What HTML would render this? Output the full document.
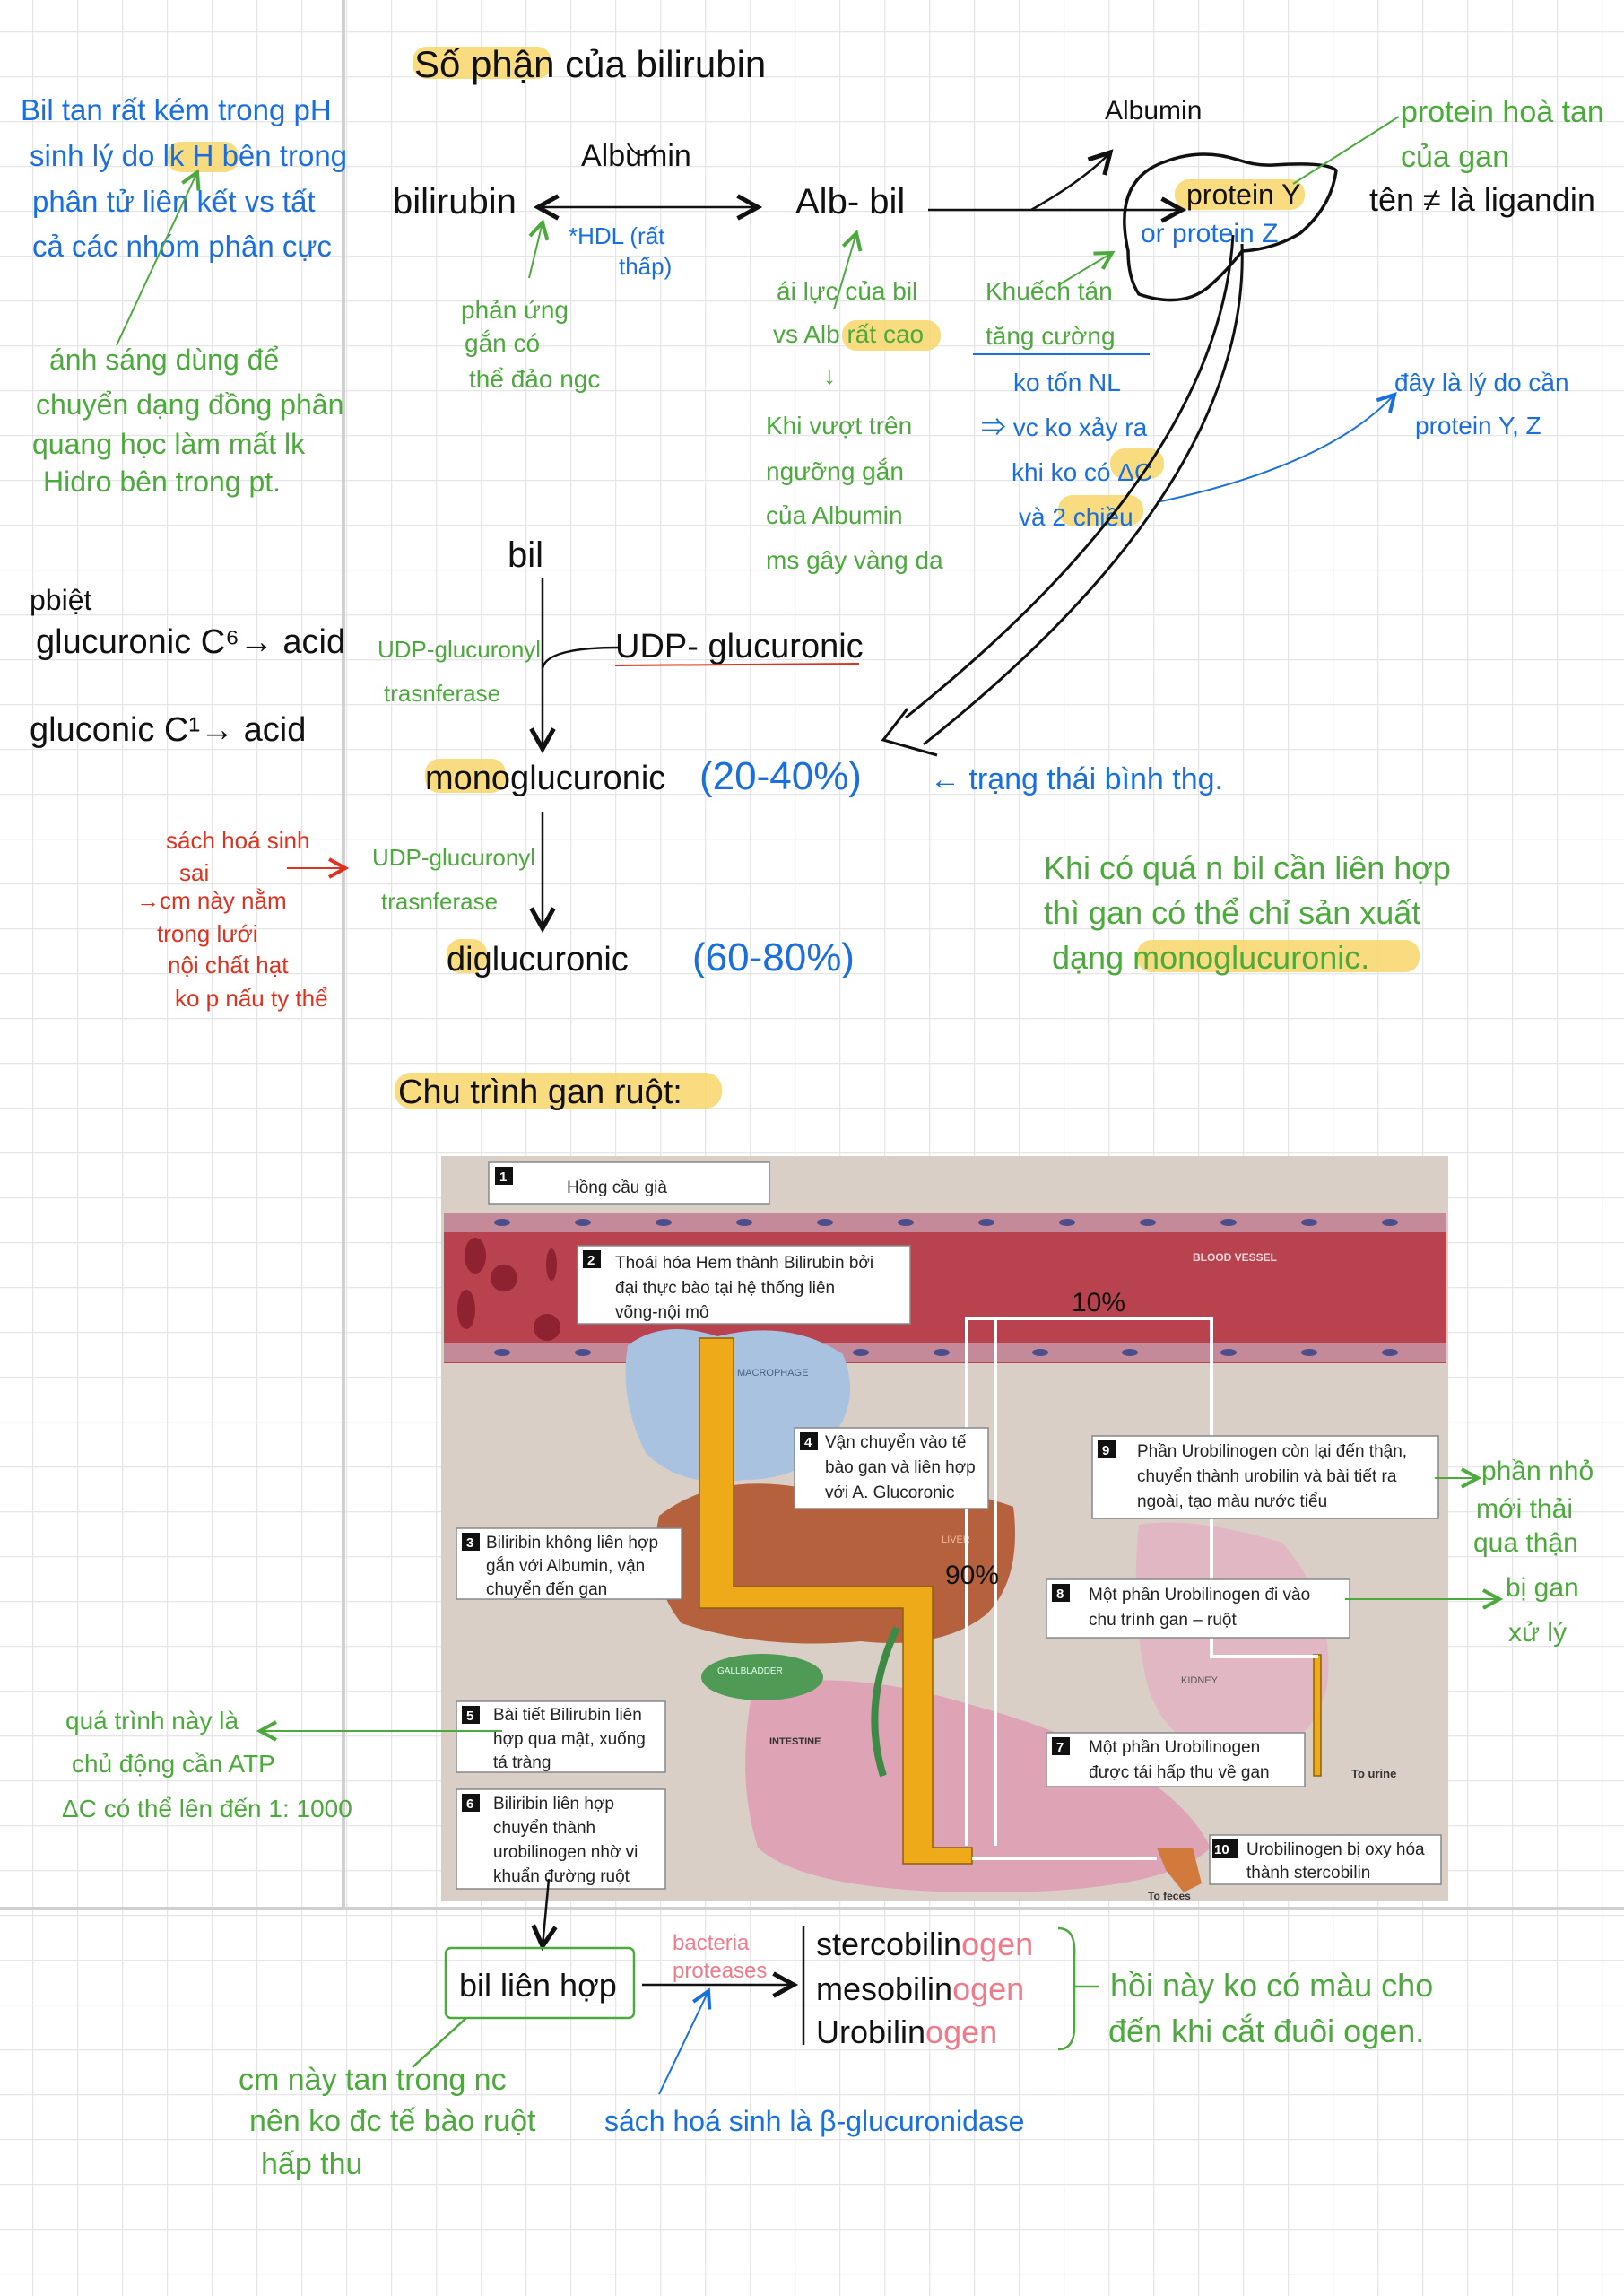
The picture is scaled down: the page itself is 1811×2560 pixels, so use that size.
<!DOCTYPE html>
<html><head><meta charset="utf-8"><style>
html,body{margin:0;padding:0;background:#fff}
svg{display:block}
text{font-family:"Liberation Sans","Noto Sans CJK SC",sans-serif}
.k{fill:#111}.b{fill:#1a6fe0}.g{fill:#4caa3c}.r{fill:#e0301e}.p{fill:#f07a8a}
.f{font-size:19px;fill:#222}
</style></head><body>
<svg width="1811" height="2560" viewBox="0 0 1811 2560" xmlns="http://www.w3.org/2000/svg">
<defs>
<pattern id="grid" x="36" y="35" width="50" height="50" patternUnits="userSpaceOnUse">
<path d="M0 0H50M0 0V50" stroke="#e6e6e6" stroke-width="2.5" fill="none"/>
</pattern>
<marker id="ak" markerWidth="12" markerHeight="12" refX="10" refY="6" orient="auto-start-reverse"><path d="M1 1L10 6L1 11" fill="none" stroke="#111" stroke-width="2"/></marker>
<marker id="ag" markerWidth="12" markerHeight="12" refX="10" refY="6" orient="auto-start-reverse"><path d="M1 1L10 6L1 11" fill="none" stroke="#4caa3c" stroke-width="2"/></marker>
<marker id="ab" markerWidth="12" markerHeight="12" refX="10" refY="6" orient="auto-start-reverse"><path d="M1 1L10 6L1 11" fill="none" stroke="#1a6fe0" stroke-width="2"/></marker>
<marker id="ar" markerWidth="12" markerHeight="12" refX="10" refY="6" orient="auto-start-reverse"><path d="M1 1L10 6L1 11" fill="none" stroke="#e0301e" stroke-width="2"/></marker>
</defs>
<rect width="1811" height="2560" fill="url(#grid)"/>
<line x1="383" y1="0" x2="383" y2="2128" stroke="#cfcfcf" stroke-width="4"/>
<line x1="0" y1="2128" x2="1811" y2="2128" stroke="#cfcfcf" stroke-width="4"/>

<g fill="#f8d66a" opacity="0.85">
<rect x="460" y="52" width="155" height="36" rx="16"/>
<rect x="1310" y="200" width="145" height="34" rx="16"/>
<rect x="186" y="158" width="80" height="34" rx="16"/>
<rect x="939" y="357" width="110" height="34" rx="16"/>
<rect x="1238" y="500" width="60" height="34" rx="16"/>
<rect x="1180" y="552" width="95" height="34" rx="16"/>
<rect x="474" y="846" width="90" height="38" rx="16"/>
<rect x="498" y="1047" width="45" height="38" rx="16"/>
<rect x="1268" y="1048" width="315" height="36" rx="16"/>
<rect x="440" y="1196" width="365" height="40" rx="18"/>
</g>

<text x="462" y="86" class="k" font-size="42">Số phận của bilirubin</text>
<g class="b" font-size="33">
<text x="23" y="134">Bil tan rất kém trong pH</text>
<text x="33" y="185">sinh lý  do lk H bên trong</text>
<text x="36" y="236">phân tử liên kết vs tất</text>
<text x="36" y="286">cả các nhóm phân cực</text>
</g>
<line x1="130" y1="385" x2="220" y2="192" stroke="#4caa3c" stroke-width="2" marker-end="url(#ag)"/>
<g class="g" font-size="32">
<text x="55" y="412">ánh sáng dùng để</text>
<text x="40" y="462">chuyển dạng đồng phân</text>
<text x="36" y="506">quang học làm mất lk</text>
<text x="48" y="548">Hidro bên trong pt.</text>
</g>

<text x="438" y="238" class="k" font-size="40">bilirubin</text>
<text x="648" y="185" class="k" font-size="34">Albumin</text>
<path d="M700 160 Q715 185 730 162" fill="none" stroke="#111" stroke-width="2"/>
<line x1="600" y1="231" x2="845" y2="231" stroke="#111" stroke-width="2.5" marker-end="url(#ak)" marker-start="url(#ak)"/>
<text x="634" y="272" class="b" font-size="26">*HDL (rất</text>
<text x="690" y="306" class="b" font-size="26">thấp)</text>
<line x1="590" y1="310" x2="605" y2="248" stroke="#4caa3c" stroke-width="2" marker-end="url(#ag)"/>
<g class="g" font-size="28">
<text x="514" y="355">phản ứng</text>
<text x="518" y="392">gắn có</text>
<text x="523" y="432">thể đảo ngc</text>
</g>
<text x="887" y="238" class="k" font-size="40">Alb- bil</text>
<line x1="1035" y1="234" x2="1318" y2="234" stroke="#111" stroke-width="2.5" marker-end="url(#ak)"/>
<path d="M1150 234 Q1210 200 1238 170" fill="none" stroke="#111" stroke-width="2.5" marker-end="url(#ak)"/>
<text x="1232" y="133" class="k" font-size="30">Albumin</text>
<path d="M1258 280 Q1240 200 1300 180 Q1340 165 1380 178 Q1400 185 1420 184 Q1480 180 1490 190 Q1485 230 1450 260 Q1420 278 1385 280 Q1370 300 1350 318 Q1320 345 1270 328 Q1258 310 1258 280Z" fill="none" stroke="#111" stroke-width="3.5"/>
<text x="1323" y="228" class="k" font-size="32">protein Y</text>
<text x="1272" y="270" class="b" font-size="30">or protein Z</text>
<line x1="1442" y1="205" x2="1560" y2="130" stroke="#4caa3c" stroke-width="2"/>
<text x="1562" y="136" class="g" font-size="34">protein hoà tan</text>
<text x="1562" y="186" class="g" font-size="34">của gan</text>
<text x="1527" y="235" class="k" font-size="36">tên ≠ là ligandin</text>

<line x1="930" y1="345" x2="955" y2="260" stroke="#4caa3c" stroke-width="2" marker-end="url(#ag)"/>
<g class="g" font-size="28">
<text x="866" y="334">ái lực của bil</text>
<text x="862" y="382">vs Alb rất cao</text>
<text x="918" y="428">↓</text>
<text x="854" y="484">Khi vượt trên</text>
<text x="854" y="535">ngưỡng gắn</text>
<text x="854" y="584">của Albumin</text>
<text x="854" y="634">ms gây vàng da</text>
</g>
<line x1="1180" y1="318" x2="1240" y2="282" stroke="#4caa3c" stroke-width="2" marker-end="url(#ag)"/>
<text x="1099" y="334" class="g" font-size="28">Khuếch tán</text>
<text x="1099" y="384" class="g" font-size="28">tăng cường</text>
<line x1="1085" y1="395" x2="1282" y2="395" stroke="#1a6fe0" stroke-width="2"/>
<g class="b" font-size="28">
<text x="1130" y="436">ko tốn NL</text>
<text x="1094" y="486">⇒ vc ko xảy ra</text>
<text x="1128" y="536">khi ko có ΔC</text>
<text x="1136" y="586">và 2 chiều</text>
<text x="1555" y="436">đây là lý do cần</text>
<text x="1578" y="484">protein Y, Z</text>
</g>
<path d="M1290 560 Q1480 520 1555 440" fill="none" stroke="#1a6fe0" stroke-width="2" marker-end="url(#ab)"/>
<path d="M1375 262 Q1360 520 1010 800 M1385 272 Q1395 540 1030 830" fill="none" stroke="#111" stroke-width="3"/>
<path d="M1012 790 L985 825 L1045 842" fill="none" stroke="#111" stroke-width="3"/>

<text x="566" y="632" class="k" font-size="40">bil</text>
<line x1="605" y1="645" x2="605" y2="835" stroke="#111" stroke-width="2.5" marker-end="url(#ak)"/>
<path d="M605 745 Q610 722 690 722" fill="none" stroke="#111" stroke-width="2.5"/>
<text x="33" y="680" class="k" font-size="32">pbiệt</text>
<text x="40" y="728" class="k" font-size="38">glucuronic C⁶→ acid</text>
<text x="33" y="826" class="k" font-size="38">gluconic C¹→ acid</text>
<text x="421" y="733" class="g" font-size="26">UDP-glucuronyl</text>
<text x="428" y="782" class="g" font-size="26">trasnferase</text>
<text x="686" y="733" class="k" font-size="38">UDP- glucuronic</text>
<line x1="686" y1="742" x2="958" y2="740" stroke="#e0301e" stroke-width="2"/>
<text x="474" y="880" class="k" font-size="38">monoglucuronic</text>
<text x="780" y="880" class="b" font-size="44">(20-40%)</text>
<text x="1037" y="880" class="b" font-size="34">← trạng thái bình thg.</text>
<line x1="605" y1="905" x2="605" y2="1035" stroke="#111" stroke-width="2.5" marker-end="url(#ak)"/>
<g class="r" font-size="26">
<text x="185" y="946">sách hoá sinh</text>
<text x="200" y="982">sai</text>
<text x="152" y="1013">→cm này nằm</text>
<text x="175" y="1050">trong lưới</text>
<text x="187" y="1085">nội chất hạt</text>
<text x="195" y="1122">ko p nấu ty thể</text>
</g>
<line x1="320" y1="968" x2="385" y2="968" stroke="#e0301e" stroke-width="2" marker-end="url(#ar)"/>
<text x="415" y="965" class="g" font-size="26">UDP-glucuronyl</text>
<text x="425" y="1014" class="g" font-size="26">trasnferase</text>
<text x="498" y="1082" class="k" font-size="38">diglucuronic</text>
<text x="772" y="1082" class="b" font-size="44">(60-80%)</text>
<g class="g" font-size="36">
<text x="1164" y="980">Khi có quá n bil cần liên hợp</text>
<text x="1164" y="1030">thì gan có thể chỉ sản xuất</text>
<text x="1173" y="1080">dạng monoglucuronic.</text>
</g>
<text x="444" y="1230" class="k" font-size="38">Chu trình gan ruột:</text>

<rect x="492" y="1289" width="1123" height="831" fill="#d9cfc7"/>
<rect x="495" y="1352" width="1118" height="168" fill="#b8434f"/>
<rect x="495" y="1352" width="1118" height="22" fill="#c48a9a"/>
<rect x="495" y="1497" width="1118" height="22" fill="#c48a9a"/>
<g fill="#4a4f8c">
<ellipse cx="560" cy="1363" rx="9" ry="4"/><ellipse cx="650" cy="1363" rx="9" ry="4"/><ellipse cx="740" cy="1363" rx="9" ry="4"/><ellipse cx="830" cy="1363" rx="9" ry="4"/><ellipse cx="920" cy="1363" rx="9" ry="4"/><ellipse cx="1010" cy="1363" rx="9" ry="4"/><ellipse cx="1100" cy="1363" rx="9" ry="4"/><ellipse cx="1190" cy="1363" rx="9" ry="4"/><ellipse cx="1280" cy="1363" rx="9" ry="4"/><ellipse cx="1370" cy="1363" rx="9" ry="4"/><ellipse cx="1460" cy="1363" rx="9" ry="4"/><ellipse cx="1550" cy="1363" rx="9" ry="4"/>
<ellipse cx="560" cy="1508" rx="9" ry="4"/><ellipse cx="650" cy="1508" rx="9" ry="4"/><ellipse cx="960" cy="1508" rx="9" ry="4"/><ellipse cx="1050" cy="1508" rx="9" ry="4"/><ellipse cx="1160" cy="1508" rx="9" ry="4"/><ellipse cx="1260" cy="1508" rx="9" ry="4"/><ellipse cx="1370" cy="1508" rx="9" ry="4"/><ellipse cx="1460" cy="1508" rx="9" ry="4"/><ellipse cx="1550" cy="1508" rx="9" ry="4"/>
</g>
<g fill="#8e2230"><ellipse cx="530" cy="1400" rx="12" ry="20"/><circle cx="562" cy="1425" r="15"/><ellipse cx="520" cy="1460" rx="10" ry="22"/><circle cx="610" cy="1480" r="15"/><ellipse cx="615" cy="1410" rx="6" ry="18"/></g>
<text x="1330" y="1406" font-size="12" fill="#f4d8dc" font-weight="bold">BLOOD VESSEL</text>
<path d="M700 1500 Q740 1470 800 1490 Q880 1470 940 1510 Q960 1560 930 1600 Q900 1650 830 1650 Q760 1660 720 1620 Q690 1560 700 1500Z" fill="#a9c2e0"/>
<text x="822" y="1534" font-size="11" fill="#4a5e80">MACROPHAGE</text>
<path d="M735 1690 Q800 1640 900 1660 Q1050 1650 1130 1680 Q1140 1760 1100 1800 Q1050 1840 960 1830 Q850 1840 760 1810 Q720 1760 735 1690Z" fill="#b5613d"/>
<text x="1050" y="1720" font-size="11" fill="#e8c0a0">LIVER</text>
<path d="M1270 1700 Q1330 1690 1430 1720 Q1490 1790 1480 1880 Q1460 1960 1380 1960 Q1300 1950 1280 1880 Q1260 1800 1270 1700Z" fill="#e2b7c4"/>
<text x="1317" y="1877" font-size="11" fill="#555">KIDNEY</text>
<path d="M840 1880 Q950 1860 1080 1900 Q1300 1960 1350 2060 Q1300 2110 1100 2110 Q900 2110 845 2060 Q820 1980 840 1880Z" fill="#dea3b5"/>
<text x="858" y="1945" font-size="11" fill="#333" font-weight="bold">INTESTINE</text>
<ellipse cx="850" cy="1870" rx="68" ry="26" fill="#4f9a55"/>
<text x="800" y="1866" font-size="10" fill="#dfe">GALLBLADDER</text>
<path d="M1000 1815 Q960 1900 985 1980" fill="none" stroke="#3c8a44" stroke-width="8"/>
<g fill="#eeaa18" stroke="#8a6010" stroke-width="1.5">
<path d="M780 1492 L818 1492 L818 1769 L1040 1769 L1040 2060 L1084 2060 L1084 2078 L1007 2078 L1007 1793 L780 1793Z"/>
<rect x="1465" y="1845" width="8" height="135"/>
</g>
<g fill="none" stroke="#fff" stroke-width="4">
<path d="M1078 2058 L1078 1470 L1351 1470 L1351 1847 L1470 1847"/>
<path d="M1110 2058 L1110 1470"/>
<path d="M1084 2072 L1290 2072"/>
</g>
<path d="M1290 2060 L1330 2060 L1340 2100 L1320 2110 L1300 2085 Z" fill="#d27a3c"/>
<text x="1280" y="2118" font-size="12" font-weight="bold" fill="#333">To feces</text>
<text x="1507" y="1982" font-size="13" font-weight="bold" fill="#333">To urine</text>
<text x="1195" y="1462" font-size="30" class="k">10%</text>
<text x="1054" y="1766" font-size="30" class="k">90%</text>
<g fill="#fff" stroke="#888" stroke-width="1.5">
<rect x="545" y="1296" width="313" height="46"/>
<rect x="644" y="1389" width="371" height="87"/>
<rect x="509" y="1704" width="251" height="79"/>
<rect x="886" y="1592" width="216" height="90"/>
<rect x="509" y="1897" width="233" height="79"/>
<rect x="509" y="1995" width="233" height="111"/>
<rect x="1167" y="1932" width="288" height="60"/>
<rect x="1167" y="1761" width="338" height="65"/>
<rect x="1218" y="1601" width="386" height="92"/>
<rect x="1349" y="2046" width="258" height="55"/>
</g>
<g fill="#111"><rect x="552" y="1301" width="20" height="20"/><rect x="650" y="1394" width="20" height="20"/><rect x="515" y="1709" width="20" height="20"/><rect x="892" y="1597" width="20" height="20"/><rect x="515" y="1902" width="20" height="20"/><rect x="515" y="2000" width="20" height="20"/><rect x="1173" y="1937" width="20" height="20"/><rect x="1173" y="1766" width="20" height="20"/><rect x="1224" y="1606" width="20" height="20"/><rect x="1352" y="2050" width="28" height="22"/></g>
<g fill="#fff" font-size="15" font-weight="bold"><text x="557" y="1317">1</text><text x="655" y="1410">2</text><text x="520" y="1725">3</text><text x="897" y="1613">4</text><text x="520" y="1918">5</text><text x="520" y="2016">6</text><text x="1178" y="1953">7</text><text x="1178" y="1782">8</text><text x="1229" y="1622">9</text><text x="1354" y="2067">10</text></g>
<g class="f">
<text x="632" y="1330">Hồng cầu già</text>
<text x="686" y="1414">Thoái hóa Hem thành Bilirubin bởi</text>
<text x="686" y="1442">đại thực bào tại hệ thống liên</text>
<text x="686" y="1469">võng-nội mô</text>
<text x="542" y="1726">Biliribin không liên hợp</text>
<text x="542" y="1752">gắn với Albumin, vận</text>
<text x="542" y="1778">chuyển đến gan</text>
<text x="920" y="1614">Vận chuyển vào tế</text>
<text x="920" y="1642">bào gan và liên hợp</text>
<text x="920" y="1670">với A. Glucoronic</text>
<text x="550" y="1918">Bài tiết Bilirubin liên</text>
<text x="550" y="1945">hợp qua mật, xuống</text>
<text x="550" y="1971">tá tràng</text>
<text x="550" y="2017">Biliribin liên hợp</text>
<text x="550" y="2044">chuyển thành</text>
<text x="550" y="2071">urobilinogen nhờ vi</text>
<text x="550" y="2098">khuẩn đường ruột</text>
<text x="1214" y="1954">Một phần Urobilinogen</text>
<text x="1214" y="1982">được tái hấp thu về gan</text>
<text x="1214" y="1784">Một phần Urobilinogen đi vào</text>
<text x="1214" y="1812">chu trình gan – ruột</text>
<text x="1268" y="1624">Phần Urobilinogen còn lại đến thận,</text>
<text x="1268" y="1652">chuyển thành urobilin và bài tiết ra</text>
<text x="1268" y="1680">ngoài, tạo màu nước tiểu</text>
<text x="1390" y="2068">Urobilinogen bị oxy hóa</text>
<text x="1390" y="2094">thành stercobilin</text>
</g>
<line x1="1600" y1="1648" x2="1648" y2="1648" stroke="#4caa3c" stroke-width="2" marker-end="url(#ag)"/>
<line x1="1500" y1="1783" x2="1672" y2="1783" stroke="#4caa3c" stroke-width="2" marker-end="url(#ag)"/>
<g class="g" font-size="30">
<text x="1652" y="1650">phần nhỏ</text>
<text x="1646" y="1692">mới thải</text>
<text x="1643" y="1730">qua thận</text>
<text x="1679" y="1780">bị gan</text>
<text x="1682" y="1830">xử lý</text>
</g>
<line x1="560" y1="1930" x2="290" y2="1930" stroke="#4caa3c" stroke-width="2" marker-end="url(#ag)"/>
<g class="g" font-size="28">
<text x="73" y="1928">quá trình này là</text>
<text x="80" y="1976">chủ động cần ATP</text>
<text x="69" y="2026">ΔC có thể lên đến 1: 1000</text>
</g>

<line x1="612" y1="2095" x2="605" y2="2170" stroke="#111" stroke-width="2.5" marker-end="url(#ak)"/>
<rect x="497" y="2172" width="210" height="78" rx="6" fill="none" stroke="#4caa3c" stroke-width="2.5"/>
<text x="512" y="2226" class="k" font-size="36">bil liên hợp</text>
<text x="750" y="2174" class="p" font-size="24">bacteria</text>
<text x="750" y="2205" class="p" font-size="24">proteases</text>
<line x1="716" y1="2213" x2="885" y2="2213" stroke="#111" stroke-width="2.5" marker-end="url(#ak)"/>
<line x1="896" y1="2148" x2="896" y2="2280" stroke="#111" stroke-width="2.5"/>
<text x="910" y="2180" font-size="36"><tspan class="k">stercobilin</tspan><tspan class="p">ogen</tspan></text>
<text x="910" y="2230" font-size="36"><tspan class="k">mesobilin</tspan><tspan class="p">ogen</tspan></text>
<text x="910" y="2278" font-size="36"><tspan class="k">Urobilin</tspan><tspan class="p">ogen</tspan></text>
<path d="M1180 2150 Q1200 2150 1198 2180 L1198 2260 Q1198 2285 1180 2285 M1198 2215 L1225 2215" fill="none" stroke="#4caa3c" stroke-width="2.5"/>
<text x="1238" y="2226" class="g" font-size="36">hồi này ko có màu cho</text>
<text x="1236" y="2277" class="g" font-size="36">đến khi cắt đuôi ogen.</text>
<line x1="520" y1="2250" x2="460" y2="2305" stroke="#4caa3c" stroke-width="2.5"/>
<g class="g" font-size="34">
<text x="266" y="2330">cm này tan trong nc</text>
<text x="278" y="2376">nên ko đc tế bào ruột</text>
<text x="291" y="2424">hấp thu</text>
</g>
<line x1="735" y1="2335" x2="790" y2="2220" stroke="#1a6fe0" stroke-width="2" marker-end="url(#ab)"/>
<text x="674" y="2376" class="b" font-size="32">sách hoá sinh là β-glucuronidase</text>
</svg>
</body></html>
